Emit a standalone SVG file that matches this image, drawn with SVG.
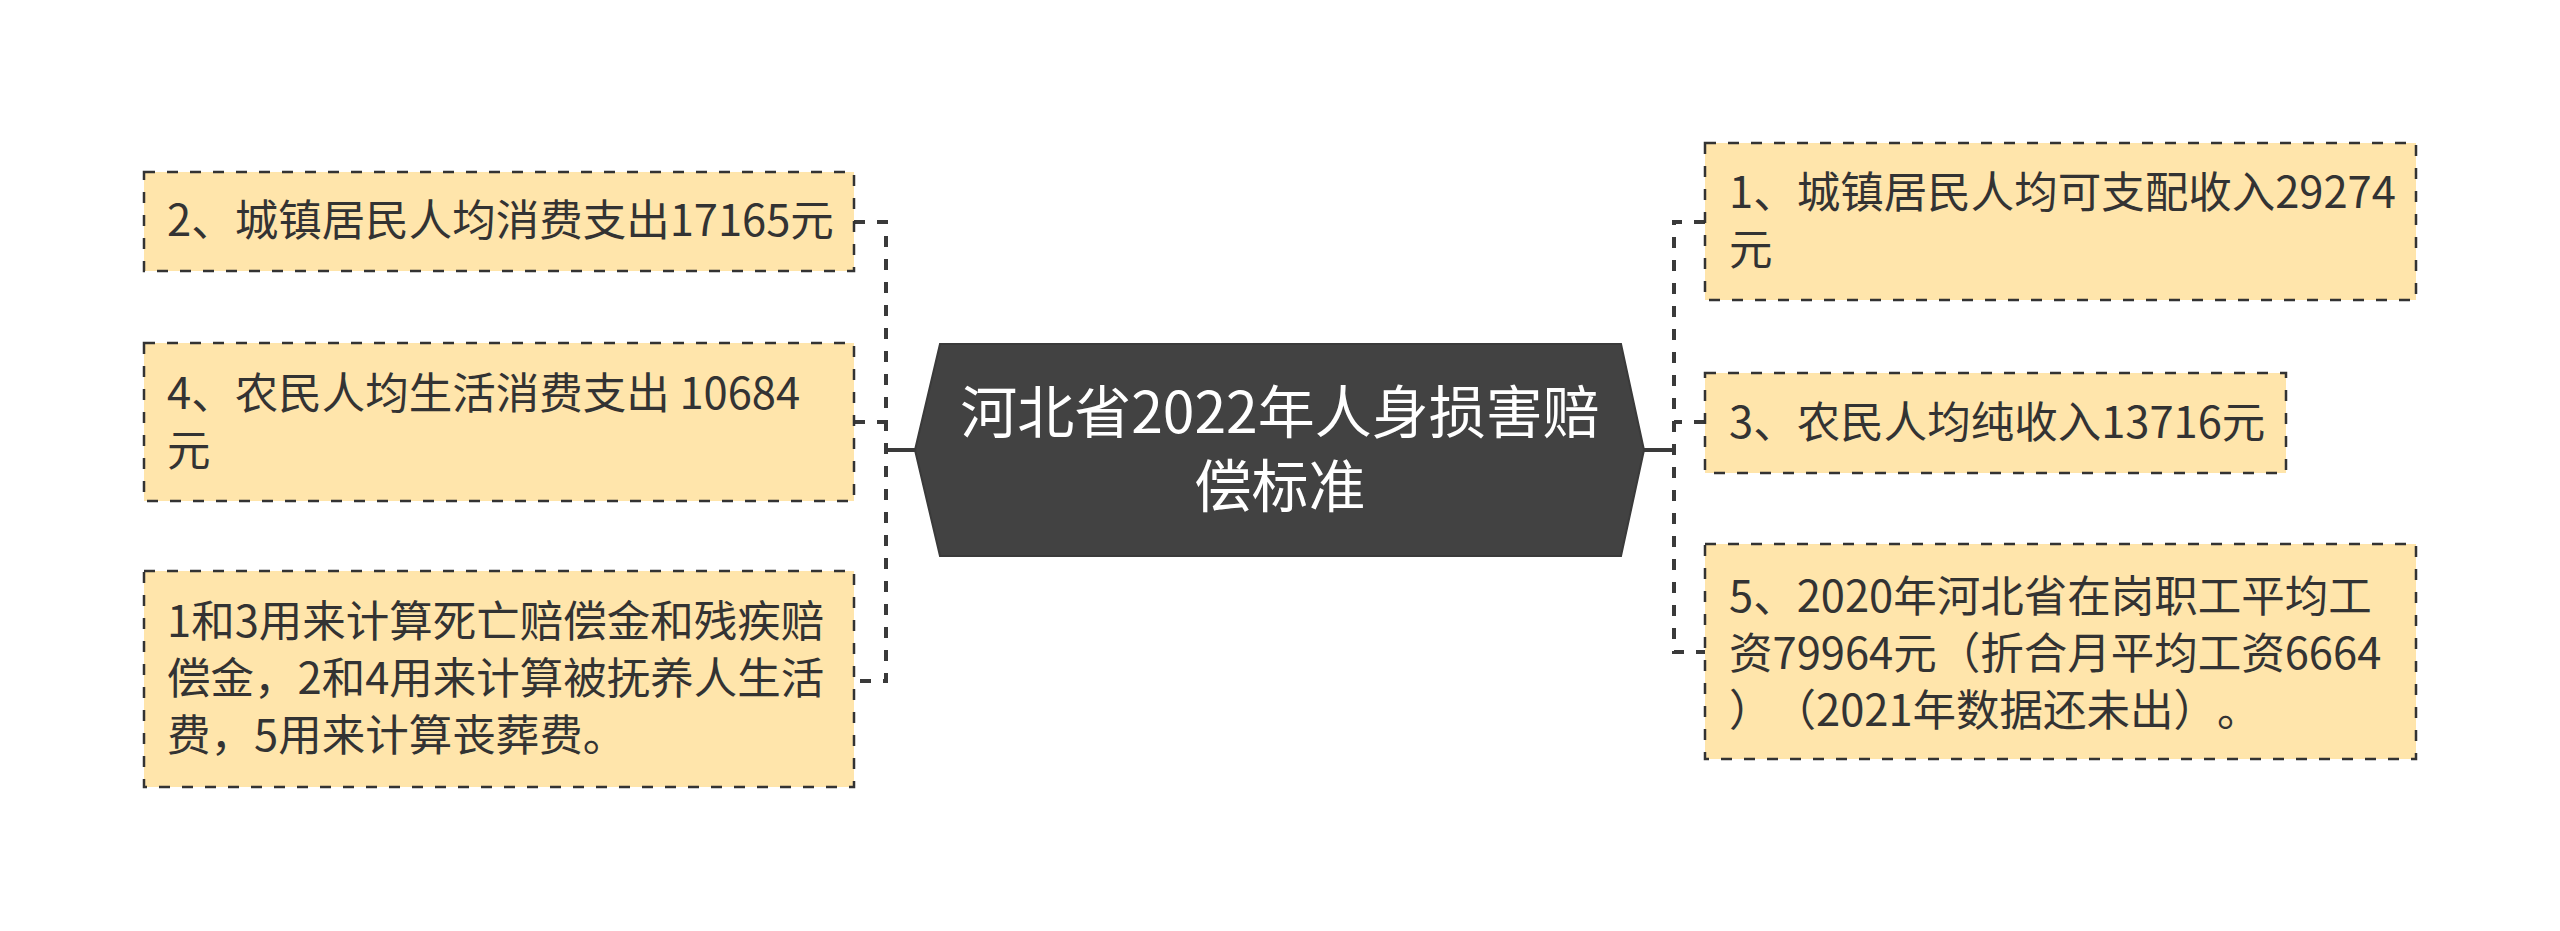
<svg xmlns="http://www.w3.org/2000/svg" width="2560" height="931" viewBox="0 0 2560 931">
<style>
.box{fill:#FFE5AB;stroke:#333333;stroke-width:2.5;stroke-dasharray:11 12;}
.t{font-family:"Noto Sans CJK SC","Noto Sans",sans-serif;font-size:43.5px;fill:#333333;text-spacing-trim:space-all;}
.ct{font-family:"Noto Sans CJK SC","Noto Sans",sans-serif;font-size:57px;fill:#FFFFFF;text-anchor:middle;}
.dl{fill:none;stroke:#3a3a3a;stroke-width:4;stroke-dasharray:11 12;}
.sl{fill:none;stroke:#3a3a3a;stroke-width:4;}
</style>
<rect width="2560" height="931" fill="#FFFFFF"/>
<g id="connectors">
<path class="sl" d="M915 450 H886"/>
<path class="dl" d="M854 222 H886 V681 H854"/>
<path class="dl" d="M854 422 H886"/>
<path class="sl" d="M1644 450 H1674"/>
<path class="dl" d="M1705 222 H1674 V652 H1705"/>
<path class="dl" d="M1705 422 H1674"/>
</g>
<g id="center">
<polygon points="940,344 1621,344 1644,450 1621,556 940,556 915,450" fill="#424242" stroke="#3a3a3a" stroke-width="2"/>
<text class="ct" x="1280" y="433">河北省2022年人身损害赔</text>
<text class="ct" x="1280" y="507">偿标准</text>
</g>
<g id="node-l1">
<rect class="box" x="144" y="172" width="710" height="99"/>
<text class="t" x="167" y="236">2、城镇居民人均消费支出17165元</text>
</g>
<g id="node-l2">
<rect class="box" x="144" y="343" width="710" height="158"/>
<text class="t" x="167" y="409">4、农民人均生活消费支出 10684</text>
<text class="t" x="167" y="466">元</text>
</g>
<g id="node-l3">
<rect class="box" x="144" y="571" width="710" height="216"/>
<text class="t" x="167" y="637">1和3用来计算死亡赔偿金和残疾赔</text>
<text class="t" x="167" y="694">偿金，2和4用来计算被抚养人生活</text>
<text class="t" x="167" y="751">费，5用来计算丧葬费。</text>
</g>
<g id="node-r1">
<rect class="box" x="1705" y="143" width="711" height="157"/>
<text class="t" x="1729" y="208">1、城镇居民人均可支配收入29274</text>
<text class="t" x="1729" y="265">元</text>
</g>
<g id="node-r2">
<rect class="box" x="1705" y="373" width="581" height="100"/>
<text class="t" x="1729" y="438">3、农民人均纯收入13716元</text>
</g>
<g id="node-r3">
<rect class="box" x="1705" y="544" width="711" height="215"/>
<text class="t" x="1729" y="612">5、2020年河北省在岗职工平均工</text>
<text class="t" x="1729" y="669">资79964元（折合月平均工资6664</text>
<text class="t" x="1729" y="726">）（2021年数据还未出）。</text>
</g>
</svg>
